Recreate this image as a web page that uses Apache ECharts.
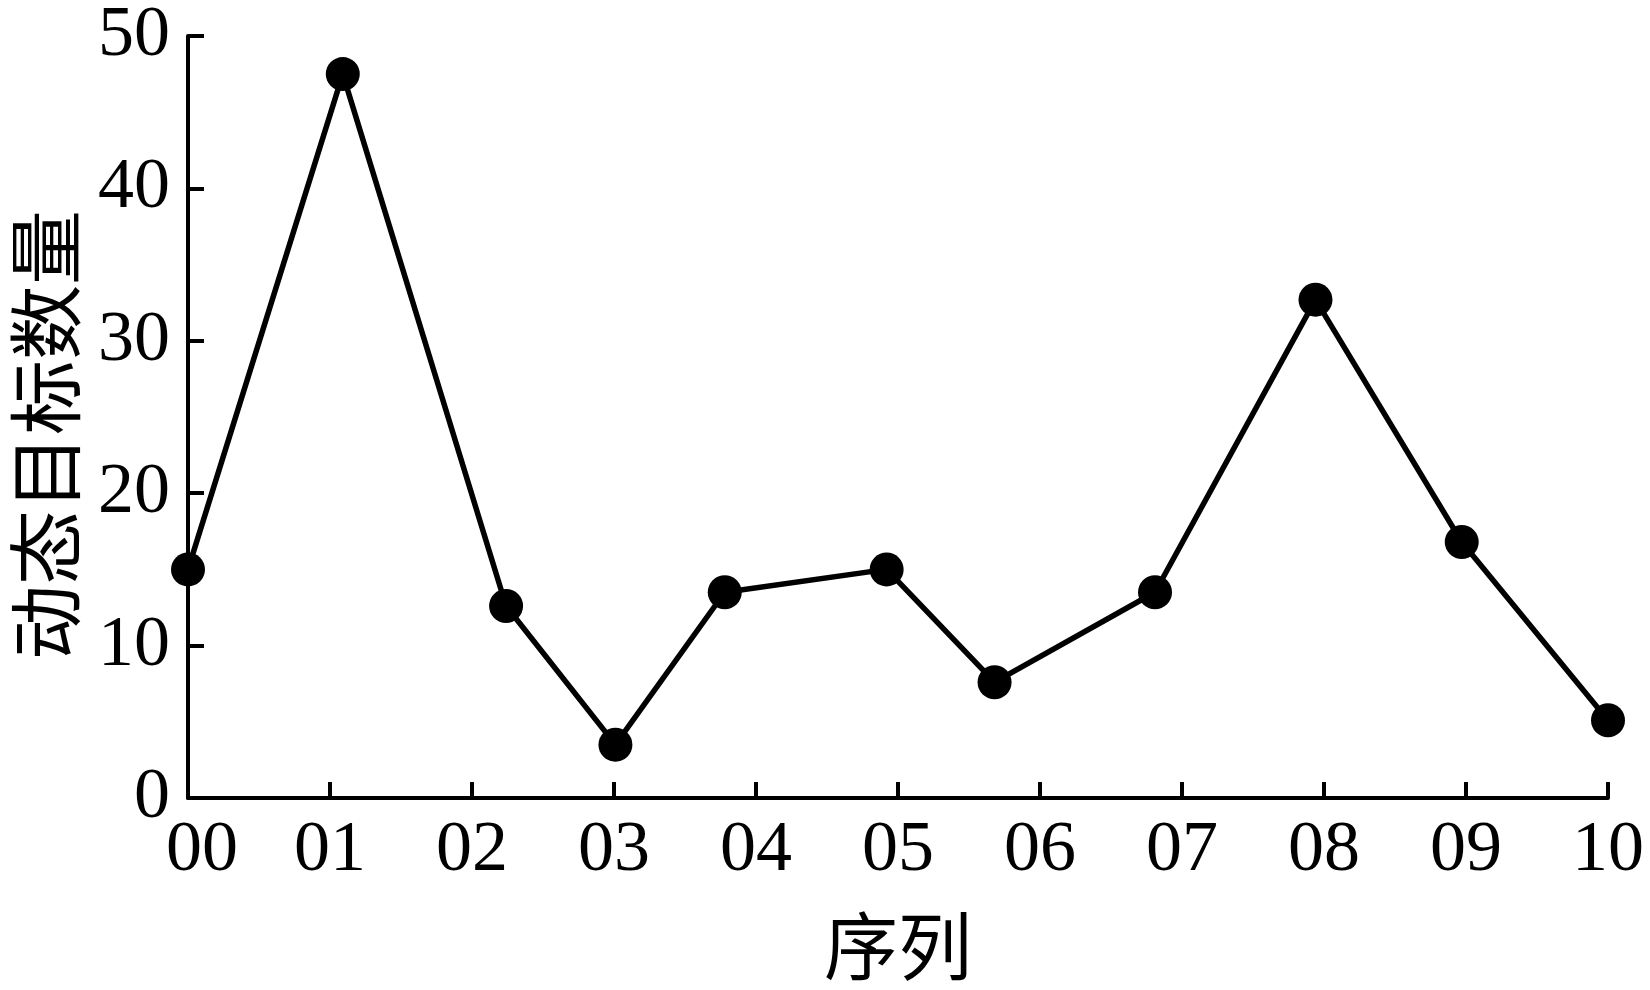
<!DOCTYPE html>
<html>
<head>
<meta charset="utf-8">
<script src="https://cdn.jsdelivr.net/npm/echarts@6/dist/echarts.min.js"></script>
<style>
html,body{margin:0;padding:0;background:#fff;}
#chart{width:1650px;height:990px;}
</style>
</head>
<body>
<div id="chart"></div>
<script>
// Data
var xPositions = [0, 1.09, 2.24, 3.01, 3.78, 4.92, 5.68, 6.81, 7.94, 8.97, 10];
var targetCounts = [15, 47.5, 12.6, 3.5, 13.5, 15, 7.6, 13.5, 32.7, 16.8, 5.1];
var xTickLabels = ['00','01','02','03','04','05','06','07','08','09','10'];
var yTickLabels = ['0','10','20','30','40','50'];
var xAxisName = '序列';
var yAxisName = '动态目标数量';

var seriesData = xPositions.map(function (x, i) { return [x, targetCounts[i]]; });

var chart = echarts.init(document.getElementById('chart'), null, {renderer: 'canvas'});
var serif = '"Liberation Serif", "Times New Roman", serif';
var cjk = '"Noto Sans CJK SC", sans-serif';

chart.setOption({
  backgroundColor: '#ffffff',
  animation: false,
  grid: {left: 187, right: 42, top: 33, bottom: 192, containLabel: false},
  xAxis: {
    type: 'value',
    min: 0, max: 10, interval: 1,
    name: xAxisName,
    nameLocation: 'middle',
    nameGap: 111,
    nameTextStyle: {fontFamily: cjk, fontSize: 74, color: '#000'},
    axisLine: {show: true, lineStyle: {color: '#000', width: 4}},
    axisTick: {show: true, inside: true, length: 16, lineStyle: {color: '#000', width: 4}},
    axisLabel: {
      margin: 17,
      fontFamily: serif, fontSize: 72, color: '#000',
      formatter: function (v) {
        var i = Math.round(v);
        return i === 0 ? '{first|' + xTickLabels[i] + '}' : xTickLabels[i];
      },
      rich: {
        first: {fontFamily: serif, fontSize: 72, color: '#000', padding: [0, 0, 0, 28]}
      }
    },
    splitLine: {show: false}
  },
  yAxis: {
    type: 'value',
    min: 0, max: 50, interval: 10,
    name: yAxisName,
    nameLocation: 'middle',
    nameGap: 105,
    nameRotate: 90,
    nameTextStyle: {fontFamily: cjk, fontSize: 75, color: '#000', padding: [0, 36, 0, 0]},
    axisLine: {show: true, lineStyle: {color: '#000', width: 4}},
    axisTick: {show: true, inside: true, length: 16, lineStyle: {color: '#000', width: 4}},
    axisLabel: {
      margin: 18,
      fontFamily: serif, fontSize: 72, color: '#000',
      formatter: function (v) { return yTickLabels[Math.round(v / 10)]; }
    },
    splitLine: {show: false}
  },
  series: [{
    type: 'line',
    data: seriesData,
    clip: false,
    symbol: 'circle',
    symbolSize: 34,
    lineStyle: {color: '#000', width: 5.5},
    itemStyle: {color: '#000'}
  }]
});
</script>
</body>
</html>
